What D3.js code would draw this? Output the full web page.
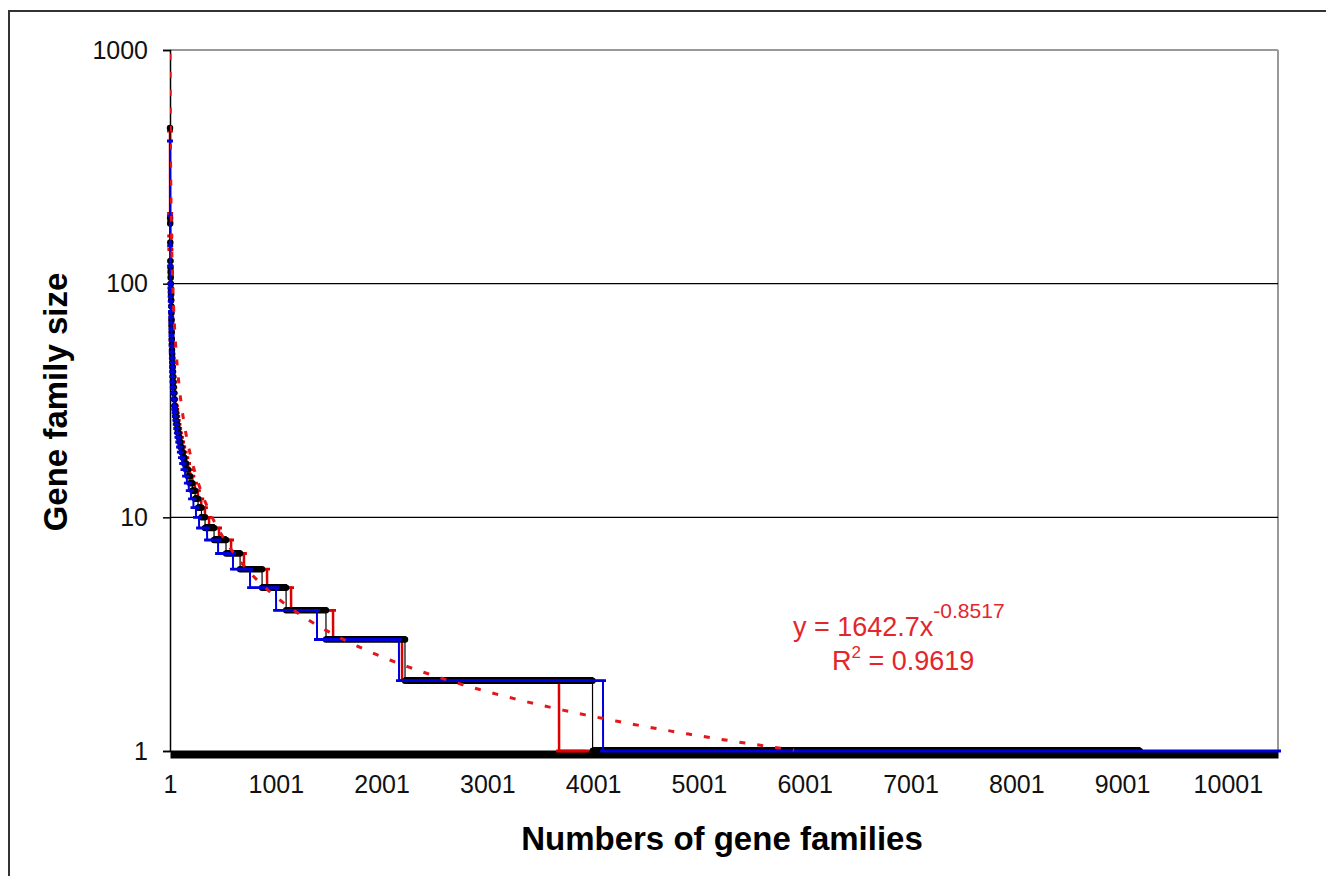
<!DOCTYPE html>
<html>
<head>
<meta charset="utf-8">
<script src="https://cdn.jsdelivr.net/npm/d3@7"></script>
<style>
  body { margin: 0; background: #fff; }
  svg { display: block; font-family: "Liberation Sans", Arial, sans-serif; }
</style>
</head>
<body>
<svg width="1326" height="876"></svg>
<script>
// gene family sizes, as runs: size and the last rank that has that size
let blackSizes = [464,191,181,150,125,118,112,106,100,95,90,85,80,75,70,66,62,58,55,52,50,48,46,44,42,40,38,36,34,32,30,29,28,27,26,25,24,23,22,21,20,19,18,17,16,15,14,13,12,11,10,9,8,7,6,5,4,3,2,1]
let blackLast  = [1,2,3,4,5,6,7,8,9,10,11,12,13,14,15,16,17,18,19,20,21,22,24,26,28,30,33,36,40,44,48,51,55,59,64,69,75,82,90,99,110,122,136,152,170,190,212,238,266,298,332,417,530,663,871,1098,1475,2222,3995,9169]

let redSizes = [450,200,185,160,140,125,115,108,100,95,90,85,80,75,70,66,62,58,55,52,50,48,46,44,42,40,38,36,34,32,30,29,28,27,26,25,24,23,22,21,20,19,18,17,16,15,14,13,12,11,10,9,8,7,6,5,4,3,2,1]
let redLast  = [1,2,3,4,5,6,7,8,9,10,11,12,13,14,15,16,17,18,19,20,22,24,26,28,31,34,37,41,45,50,56,60,64,69,74,80,87,95,104,114,126,139,154,171,190,212,236,264,296,331,370,464,578,700,918,1145,1542,2194,3678,3933]

let blueSizes = [408,195,145,119,100,96,92,88,84,80,76,72,68,64,60,57,54,51,48,46,44,42,40,38,36,34,32,30,29,28,27,26,25,24,23,22,21,20,19,18,17,16,15,14,13,12,11,10,9,8,7,6,5,4,3,2,1]
let blueLast  = [1,2,3,4,5,6,7,8,9,10,11,12,13,14,15,16,17,18,19,20,21,22,24,26,29,33,37,41,44,47,51,55,60,65,71,78,86,94,104,115,128,143,160,178,199,222,246,275,351,455,596,757,1003,1390,2165,4094,10475]

let rankMax = 10475
let yTicks = [1, 10, 100, 1000]
let xTicks = [1, 1001, 2001, 3001, 4001, 5001, 6001, 7001, 8001, 9001, 10001]

// power trendline shown on the chart
let trendA = 1642.7
let trendB = -0.8517
let trendR2 = 0.9619

let svg = d3.select("svg")

let x = d3.scaleLinear().domain([1, rankMax]).range([170, 1278])
let y = d3.scaleLog().domain([1, 1000]).range([751, 50])

// outer chart border
svg.append("rect")
  .attr("x", 9).attr("y", 11)
  .attr("width", 1400).attr("height", 1000)
  .style("fill", "none")
  .style("stroke", "#333")
  .style("stroke-width", 2)

// plot frame
svg.append("line")
  .attr("x1", 170).attr("x2", 1278).attr("y1", y(1000)).attr("y2", y(1000))
  .style("stroke", "#999").style("stroke-width", 2)
svg.append("line")
  .attr("x1", 1278).attr("x2", 1278).attr("y1", y(1000)).attr("y2", y(1))
  .style("stroke", "#999").style("stroke-width", 2)

// gridlines
svg.selectAll(".grid")
  .data([10, 100])
  .enter()
  .append("line")
  .attr("x1", 170).attr("x2", 1278)
  .attr("y1", d => y(d)).attr("y2", d => y(d))
  .style("stroke", "#000").style("stroke-width", 1.3)

// y axis
let yAxis = svg.append("g")
  .attr("transform", "translate(170,0)")
  .call(d3.axisLeft(y).tickValues(yTicks).tickFormat(d3.format("d")).tickSize(7).tickPadding(15))
yAxis.select(".domain").style("stroke", "#000").style("stroke-width", 1.5)
yAxis.selectAll(".tick line").style("stroke", "#000").style("stroke-width", 1.5)
yAxis.selectAll("text")
  .style("font-size", "25px")
  .style("font-family", "Liberation Sans, Arial, sans-serif")
  .style("fill", "#111")

// x axis: thick black line along the bottom
let xAxis = svg.append("g")
  .attr("transform", "translate(0,754)")
  .call(d3.axisBottom(x).tickValues(xTicks).tickFormat(d3.format("d")).tickSize(0).tickPadding(21))
xAxis.select(".domain").style("stroke", "#000").style("stroke-width", 8)
xAxis.selectAll("text")
  .style("font-size", "25px")
  .style("font-family", "Liberation Sans, Arial, sans-serif")
  .style("fill", "#111")

// helpers to turn runs into points
let runEnds = (sizes, last) => {
  let pts = []
  let start = 1
  sizes.forEach((s, i) => {
    pts.push([start, s])
    if (last[i] > start) pts.push([last[i], s])
    start = last[i] + 1
  })
  return pts
}
let everyRank = (sizes, last) => {
  let pts = []
  let start = 1
  sizes.forEach((s, i) => {
    for (let r = start; r <= last[i]; r++) pts.push([r, s])
    start = last[i] + 1
  })
  return pts
}

let line = d3.line().x(d => x(d[0])).y(d => y(d[1]))

svg.append("clipPath").attr("id", "plot")
  .append("rect").attr("x", 170).attr("y", 50).attr("width", 1120).attr("height", 702)

let series = [
  { sizes: redSizes, last: redLast, color: "#dd0000", width: 2.5, marker: "dash" },
  { sizes: blackSizes, last: blackLast, color: "#000", width: 1.2, marker: "dot" },
  { sizes: blueSizes, last: blueLast, color: "#0000dd", width: 2, marker: "dash" }
]

series.forEach(s => {
  svg.append("path")
    .attr("d", line(runEnds(s.sizes, s.last)))
    .style("fill", "none")
    .style("stroke", s.color)
    .style("stroke-width", s.width)

  let pts = everyRank(s.sizes, s.last)
  let d = s.marker === "dot"
    ? pts.map(p => `M${x(p[0]).toFixed(1)},${y(p[1]).toFixed(1)}h0`).join("")
    : pts.map(p => `M${(x(p[0]) - 3).toFixed(1)},${y(p[1]).toFixed(1)}h6`).join("")
  svg.append("path")
    .attr("d", d)
    .style("fill", "none")
    .style("stroke", s.color)
    .style("stroke-width", s.marker === "dot" ? 6.5 : 2.8)
    .style("stroke-linecap", s.marker === "dot" ? "round" : "butt")
})

// trendline
let trendRanks = d3.range(0, 1.0001, 0.002).map(t => Math.pow(rankMax, t))
svg.append("path")
  .attr("clip-path", "url(#plot)")
  .attr("d", d3.line()
    .x(r => x(r))
    .y(r => y(Math.max(trendA * Math.pow(r, trendB), 0.5)))(trendRanks.filter(r => trendA * Math.pow(r, trendB) >= 1)))
  .style("fill", "none")
  .style("stroke", "#e3161c")
  .style("stroke-width", 3)
  .style("stroke-dasharray", "6,12")

// trendline label
let eq = svg.append("text")
  .attr("x", 793).attr("y", 636)
  .style("font-size", "27px")
  .style("fill", "#e3262b")
eq.append("tspan").text(`y = ${trendA}x`)
eq.append("tspan").attr("dy", -18).style("font-size", "21px").text(trendB)

let r2 = svg.append("text")
  .attr("x", 832).attr("y", 670)
  .style("font-size", "27px")
  .style("fill", "#e3262b")
r2.append("tspan").text("R")
r2.append("tspan").attr("dy", -12).style("font-size", "17px").text("2")
r2.append("tspan").attr("dy", 12).text(` = ${trendR2}`)

// axis titles
svg.append("text")
  .attr("x", 722).attr("y", 850)
  .attr("text-anchor", "middle")
  .style("font-size", "33px")
  .style("font-weight", "bold")
  .text("Numbers of gene families")

svg.append("text")
  .attr("transform", "translate(67,402) rotate(-90)")
  .attr("text-anchor", "middle")
  .style("font-size", "33px")
  .style("font-weight", "bold")
  .text("Gene family size")
</script>
</body>
</html>
